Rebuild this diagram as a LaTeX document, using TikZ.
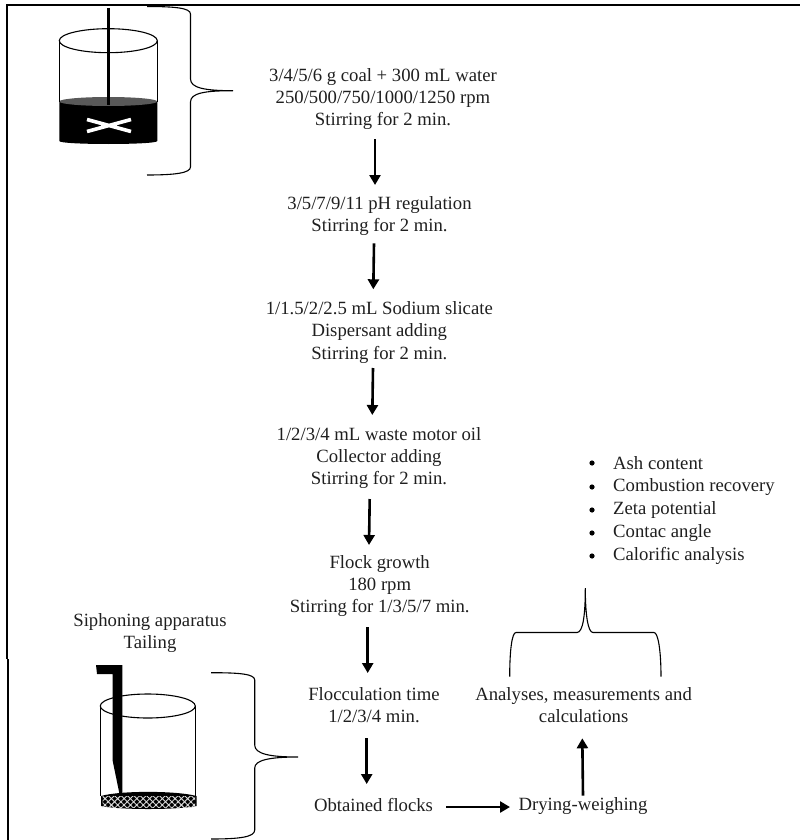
\documentclass[tikz,border=0pt]{standalone}
\usepackage{fontspec}
\setmainfont{Liberation Serif}
\usetikzlibrary{patterns.meta,arrows.meta}
\tikzset{
  lbl/.style={font=\fontsize{18.7}{22.2}\selectfont,align=center,inner sep=0pt,text=black!88},
  blt/.style={font=\fontsize{18.7}{22.2}\selectfont,anchor=west,inner sep=0pt,text=black!88},
  flow/.style={line width=2.6pt,-{Triangle[length=10pt,width=11pt]}},
  brace/.style={line width=1.1pt},
  frameline/.style={line width=1.5pt},
  glass/.style={line width=1.1pt}
}
\begin{document}
\begin{tikzpicture}[x=1pt,y=-1pt]
\useasboundingbox (0,0) rectangle (800,840);
% frame
\draw[frameline] (6.8,659) -- (6.8,5) -- (800,5);
\draw[frameline,line width=1.2pt] (8,659) -- (8,840);
% texts
\node[lbl] (t1) at (383,99) {3/4/5/6 g coal + 300 mL water\\250/500/750/1000/1250 rpm\\Stirring for 2 min.};
\node[lbl] (t2) at (379.5,216) {3/5/7/9/11 pH regulation\\Stirring for 2 min.};
\node[lbl] (t3) at (379.3,332.5) {1/1.5/2/2.5 mL Sodium slicate\\Dispersant adding\\Stirring for 2 min.};
\node[lbl] (t4) at (379,458) {1/2/3/4 mL waste motor oil\\Collector adding\\Stirring for 2 min.};
\node[lbl] (t5) at (379.7,586) {Flock growth\\180 rpm\\Stirring for 1/3/5/7 min.};
\node[lbl] (t6) at (374,705) {Flocculation time\\1/2/3/4 min.};
\node[lbl] (t7) at (373.5,805) {Obtained flocks};
\node[lbl] (t8) at (583,805.7) {Drying-weighing};
\node[lbl] (t9) at (583.6,705) {Analyses, measurements and\\calculations};
\node[lbl] (t10) at (150,633) {Siphoning apparatus\\Tailing};
\node[blt] (b1) at (613,463) {Ash content};
\node[blt] (b2) at (613,487) {Combustion recovery};
\node[blt] (b3) at (613,510) {Zeta potential};
\node[blt] (b4) at (613,533) {Contac angle};
\node[blt] (b5) at (613,556) {Calorific analysis};
\foreach \n in {1,...,5}{\fill ([xshift=-21pt]b\n.west) circle (2.6);}
% arrows
\draw[flow] ([shift={(-8,40)}]t1.center) -- ([shift={(-4.5,-31)}]t2.center);
\draw[flow] ([shift={(-5.5,27.3)}]t2.center) -- ([shift={(-6,-43.2)}]t3.center);
\draw[flow] ([shift={(-6.3,35.5)}]t3.center) -- ([shift={(-6.7,-43)}]t4.center);
\draw[flow] ([shift={(-9.3,41)}]t4.center) -- ([shift={(-10.7,-41)}]t5.center);
\draw[flow] ([shift={(-12,41)}]t5.center) -- ([shift={(-6.3,-32)}]t6.center);
\draw[flow] ([shift={(-7.3,33)}]t6.center) -- ([shift={(-6.8,-21)}]t7.center);
\draw[flow] ([shift={(72.5,2)}]t7.center) -- ([shift={(-73,1.3)}]t8.center);
\draw[flow] ([shift={(0,-10)}]t8.center) -- ([shift={(-1.3,33.3)}]t9.center);
% brace 1
\draw[brace] (147,6.5) .. controls (175,6.5) and (190.5,8) .. (190.5,14)
  -- (190.5,79) .. controls (190.5,88) and (205,90.7) .. (233,90.7)
  .. controls (205,90.7) and (190.5,93) .. (190.5,102)
  -- (190.5,167) .. controls (190.5,173) and (175,175) .. (147,175);
% brace 2
\draw[brace] (211,672.7) .. controls (240,672.7) and (254.7,674) .. (254.7,680)
  -- (254.7,745) .. controls (254.7,754) and (270,757) .. (298,757)
  .. controls (270,757) and (254.7,760) .. (254.7,768)
  -- (254.7,830) .. controls (254.7,837) and (240,839) .. (211,839);
% brace 3
\draw[brace] (509.7,676.7) .. controls (509.7,650) and (512,632.5) .. (516,632.5)
  -- (577,632.5) .. controls (583,632.5) and (585.3,615) .. (585.3,588)
  .. controls (585.3,615) and (588,632.5) .. (593,632.5)
  -- (654,632.5) .. controls (658,632.5) and (661,650) .. (661,676.7);
% beaker 1
\fill[black] (59.3,102) -- (157.3,102) -- (157.3,141)
  .. controls (157.3,145) and (59.3,145) .. (59.3,141) -- cycle;
\fill[black!65] (108.3,101.5) ellipse[x radius=49,y radius=4.5];
\draw[glass] (108.3,40.7) ellipse[x radius=49,y radius=12];
\draw[glass] (59.3,40.7) -- (59.3,102) (157.3,40.7) -- (157.3,102);
\draw[line width=3pt] (108.7,8) -- (108.7,105);
\draw[white,line width=3.6pt] (87,119.5) -- (131,131.5) (87,131.5) -- (131,119.5);
% beaker 2
\draw[glass] (147.8,706) ellipse[x radius=47.5,y radius=12];
\draw[glass] (100.3,706) -- (100.3,796) (195.3,706) -- (195.3,796);
\fill[black] (101,796) .. controls (120,790.5) and (176,790.5) .. (196.5,796) -- (196.5,806)
  .. controls (176,810) and (120,810) .. (101,806) -- cycle;
\fill[pattern={Hatch[angle=45,distance=4.5pt,line width=0.9pt]},pattern color=white!85!black] (102.5,796) rectangle (195,807);
\fill[black] (96,665) -- (122.3,665) -- (122.3,794) -- (119.5,794) -- (112.5,760) -- (112.5,674) -- (97,674) -- cycle;
\end{tikzpicture}
\end{document}
